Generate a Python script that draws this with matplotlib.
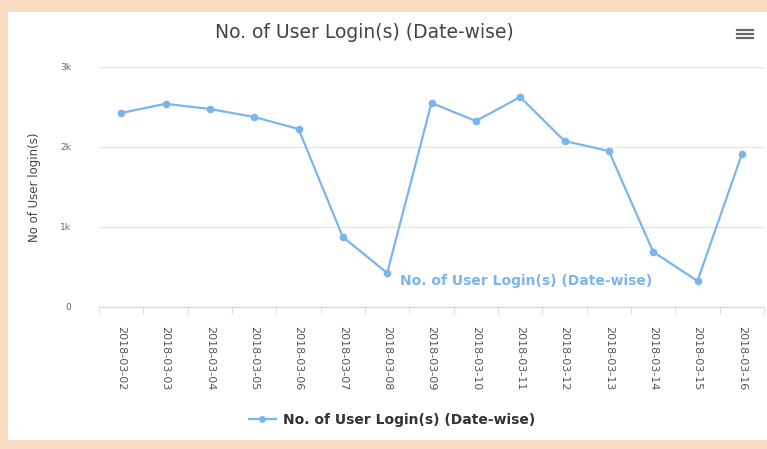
import numpy as np
import matplotlib.pyplot as plt
from matplotlib.patches import Rectangle
from matplotlib.lines import Line2D

# data
dates = ['2018-03-02', '2018-03-03', '2018-03-04', '2018-03-05', '2018-03-06',
         '2018-03-07', '2018-03-08', '2018-03-09', '2018-03-10', '2018-03-11',
         '2018-03-12', '2018-03-13', '2018-03-14', '2018-03-15', '2018-03-16']
logins = [2425, 2540, 2475, 2375, 2225, 875, 425, 2550, 2325, 2625,
          2075, 1950, 690, 325, 1910]
yticks = [0, 1000, 2000, 3000]
ytick_labels = ['0', '1k', '2k', '3k']

series_name = 'No. of User Login(s) (Date-wise)'
line_color = '#7cb5ec'

W, H = 767, 449
fig = plt.figure(figsize=(W / 100, H / 100), dpi=100)
fig.patch.set_facecolor('#f8dcc2')
# white card inside the peach frame
card = Rectangle((8 / W, 9 / H), 1 - 8 / W, 1 - 21 / H,
                 transform=fig.transFigure, facecolor='white',
                 edgecolor='none', zorder=-5)
fig.add_artist(card)

ax = fig.add_axes([99 / W, 1 - 307 / H, 665 / W, 240 / H])
ax.set_zorder(2)
ax.set_facecolor('none')
x = np.arange(len(dates))
ax.plot(x, logins, color=line_color, linewidth=1.6, marker='o',
        markersize=4.5, zorder=3)

ax.set_xlim(-0.5, len(dates) - 0.5)
ax.set_ylim(0, 3000)
ax.set_yticks(yticks)
ax.set_yticklabels(ytick_labels, fontsize=6.5, color='#666666')
ax.set_xticks(x)
ax.set_xticklabels(dates, rotation=-90, fontsize=8, color='#555555')
ax.set_xticks(np.arange(-0.5, len(dates)), minor=True)
ax.tick_params(axis='x', which='major', length=0, pad=14)
ax.tick_params(axis='x', which='minor', length=5, color='#ccd6eb')
ax.tick_params(axis='y', length=0, pad=20)
ax.grid(axis='y', color='#e6e6e6', linewidth=1)
ax.set_axisbelow(True)
for s in ['top', 'right', 'left']:
    ax.spines[s].set_visible(False)
ax.spines['bottom'].set_color('#ccd6eb')

ax.set_ylabel('No of User login(s)', fontsize=8.5, color='#444444',
              labelpad=14)

# series label next to the low point
ax.annotate(series_name, (6, logins[6]), xytext=(9, -6),
            textcoords='offset points', fontsize=10, fontweight='bold',
            color=line_color, va='center')

fig.text(0.475, 1 - 33 / H, 'No. of User Login(s) (Date-wise)', ha='center',
         va='center', fontsize=13.5, color='#444444')

# hamburger menu icon
for dy in (-4, 0, 4):
    fig.add_artist(Line2D([737 / W, 753 / W], [1 - (34 + dy) / H] * 2,
                          color='#666666', linewidth=1.6))

# legend
leg = fig.legend([Line2D([0], [0], color=line_color, marker='o', markersize=4,
                         linewidth=1.6)], [series_name],
                 loc='center', bbox_to_anchor=(392 / W, 1 - 420 / H),
                 frameon=False, prop={'size': 10, 'weight': 'bold'},
                 handlelength=2.0, handletextpad=0.5)
for t in leg.get_texts():
    t.set_color('#333333')

fig.savefig('out.png', dpi=100, facecolor=fig.get_facecolor())
